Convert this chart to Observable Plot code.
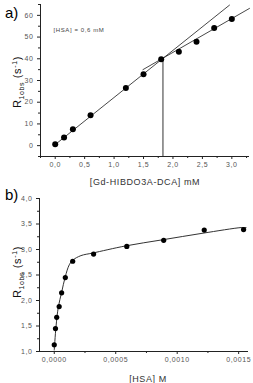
<!DOCTYPE html>
<html><head><meta charset="utf-8">
<script src="https://cdn.jsdelivr.net/npm/d3@7"></script>
<script src="https://cdn.jsdelivr.net/npm/@observablehq/plot@0.6"></script>
<style>
body{margin:0;background:#fff;font-family:Arial,"Liberation Sans",sans-serif}
#wrap{position:relative;width:253px;height:383px;overflow:hidden}
.panel{position:absolute;left:0}
.tag{position:absolute;font-size:15px;color:#000;line-height:1}
</style></head><body><div id="wrap"></div>
<script>
// ---- panel a data ----
const gdConc = [0, 0.15, 0.3, 0.6, 1.2, 1.5, 1.8, 2.1, 2.4, 2.7, 3.0];
const r1obsA = [0.6, 3.8, 7.5, 14.0, 26.5, 32.9, 39.8, 43.2, 47.9, 54.2, 58.3];
const fitLowX = [0, 2.96];
const fitLowY = [0.5, 64.7];
const fitHighX = [1.49, 3.3];
const fitHighY = [35.0, 63.2];
const breakX = [1.83];
const breakY = [40.2];
const ticksAX = [0, 0.5, 1.0, 1.5, 2.0, 2.5, 3.0];
const minorAX = [-0.25, 0.25, 0.75, 1.25, 1.75, 2.25, 2.75, 3.25];
const ticksAY = [0, 10, 20, 30, 40, 50, 60];
const minorAY = [-5, 5, 15, 25, 35, 45, 55, 65];
// ---- panel b data ----
const hsaConc = [0, 0.00001, 0.00002, 0.00004, 0.00006, 0.00009, 0.00015, 0.00032, 0.00059, 0.00089, 0.00122, 0.00154];
const r1obsB = [1.13, 1.45, 1.67, 1.88, 2.15, 2.45, 2.77, 2.91, 3.06, 3.18, 3.38, 3.39];
const curveX = [0, 0.000014, 0.000033, 0.00006, 0.00009, 0.000122, 0.00015, 0.000217, 0.000312, 0.00058, 0.00088, 0.00121, 0.00152, 0.00156];
const curveY = [1.03, 1.48, 1.87, 2.16, 2.47, 2.70, 2.79, 2.88, 2.93, 3.07, 3.19, 3.32, 3.43, 3.43];
const ticksBX = [0, 0.0005, 0.001, 0.0015];
const minorBX = [0.00025, 0.00075, 0.00125];
const ticksBY = [1.0, 1.5, 2.0, 2.5, 3.0, 3.5, 4.0];
const minorBY = [1.25, 1.75, 2.25, 2.75, 3.25, 3.75];

const comma = f => d => d3.format(f)(d).replace(".", ",");
const FONT = "Arial, 'Liberation Sans', sans-serif";
const ink = "#222";
const tickGray = "#555";

function addYLabel(svg, cx, cy) {
  const t = d3.select(svg).append("text")
    .attr("transform", `translate(${cx},${cy}) rotate(-90)`)
    .attr("text-anchor", "middle")
    .attr("font-family", FONT)
    .attr("fill", "#111")
    .attr("font-size", 11);
  t.append("tspan").text("R");
  t.append("tspan").attr("font-size", 7).attr("dy", 2.5).text("1obs");
  t.append("tspan").attr("dy", -2.5).text(" (s");
  t.append("tspan").attr("font-size", 7).attr("dy", -4).text("-1");
  t.append("tspan").attr("dy", 4).text(")");
}

const wrap = document.getElementById("wrap");

// ---------- Panel a ----------
const lowLine = fitLowX.map((x, i) => ({x, y: fitLowY[i]}));
const highLine = fitHighX.map((x, i) => ({x, y: fitHighY[i]}));
const ptsA = gdConc.map((x, i) => ({x, y: r1obsA[i]}));
const brk = breakX.map((x, i) => ({x, y: breakY[i]}));

const A = Plot.plot({
  width: 253, height: 190,
  marginLeft: 40, marginRight: 4, marginTop: 4, marginBottom: 34,
  style: {fontFamily: FONT, background: "transparent", overflow: "visible", letterSpacing: "0.6px"},
  x: {domain: [-0.25, 3.3]},
  y: {domain: [-5, 65]},
  marks: [
    Plot.axisX(ticksAX, {tickSize: 3, tickPadding: 3, fontSize: 7, color: tickGray, stroke: ink, tickFormat: comma(".1f"), label: null}),
    Plot.axisX(minorAX, {tickSize: 2, text: null, stroke: ink, label: null}),
    Plot.axisY(ticksAY, {tickSize: 3, tickPadding: 4, fontSize: 7, color: tickGray, stroke: ink, tickFormat: d3.format("d"), label: null}),
    Plot.axisY(minorAY, {tickSize: 2, text: null, stroke: ink, label: null}),
    Plot.ruleY([-5], {stroke: ink, strokeWidth: 1}),
    Plot.ruleX([-0.25], {stroke: ink, strokeWidth: 1}),
    Plot.line(lowLine, {x: "x", y: "y", stroke: "#333", strokeWidth: 0.9}),
    Plot.line(highLine, {x: "x", y: "y", stroke: "#333", strokeWidth: 0.9}),
    Plot.ruleX(brk, {x: "x", y1: -5, y2: "y", stroke: "#333", strokeWidth: 1}),
    Plot.dot(ptsA, {x: "x", y: "y", r: 3, fill: "#000", stroke: "none"}),
    Plot.text(["[HSA] = 0,6 mM"], {frameAnchor: "top-left", dx: 13, dy: 23, textAnchor: "start", fontSize: 6, fill: "#444"}),
    Plot.text(["[Gd-HIBDO3A-DCA] mM"], {frameAnchor: "bottom", dy: 28, fontSize: 9, fill: "#333", style: {letterSpacing: "1px"}})
  ]
});
A.classList.add("panel");
A.style.top = "0px";
addYLabel(A, 21, 82);
wrap.appendChild(A);

// ---------- Panel b ----------
const ptsB = hsaConc.map((x, i) => ({x, y: r1obsB[i]}));
const fitB = curveX.map((x, i) => ({x, y: curveY[i]}));

const B = Plot.plot({
  width: 253, height: 193,
  marginLeft: 39, marginRight: 5, marginTop: 8, marginBottom: 32,
  style: {fontFamily: FONT, background: "transparent", overflow: "visible", letterSpacing: "0.6px"},
  x: {domain: [-0.00012, 0.00158]},
  y: {domain: [1, 4]},
  marks: [
    Plot.axisX(ticksBX, {tickSize: 3, tickPadding: 3, fontSize: 7, color: tickGray, stroke: ink, tickFormat: comma(".4f"), label: null}),
    Plot.axisX(minorBX, {tickSize: 2, text: null, stroke: ink, label: null}),
    Plot.axisY(ticksBY, {tickSize: 3, tickPadding: 4, fontSize: 7, color: tickGray, stroke: ink, tickFormat: comma(".1f"), label: null}),
    Plot.axisY(minorBY, {tickSize: 2, text: null, stroke: ink, label: null}),
    Plot.ruleY([1], {stroke: ink, strokeWidth: 1}),
    Plot.ruleX([-0.00012], {stroke: ink, strokeWidth: 1}),
    Plot.line(fitB, {x: "x", y: "y", stroke: "#333", strokeWidth: 1, curve: "catmull-rom"}),
    Plot.dot(ptsB, {x: "x", y: "y", r: 2.6, fill: "#000", stroke: "none"}),
    Plot.text(["[HSA] M"], {frameAnchor: "bottom", dy: 30, dx: 4, fontSize: 9, fill: "#333", style: {letterSpacing: "1.2px"}})
  ]
});
B.classList.add("panel");
B.style.top = "190px";
addYLabel(B, 21, 82);
wrap.appendChild(B);

// panel tags
const ta = document.createElement("div");
ta.className = "tag"; ta.textContent = "a)";
ta.style.left = "5px"; ta.style.top = "5px";
wrap.appendChild(ta);
const tb = document.createElement("div");
tb.className = "tag"; tb.textContent = "b)";
tb.style.left = "5px"; tb.style.top = "187px";
wrap.appendChild(tb);
</script></body></html>
